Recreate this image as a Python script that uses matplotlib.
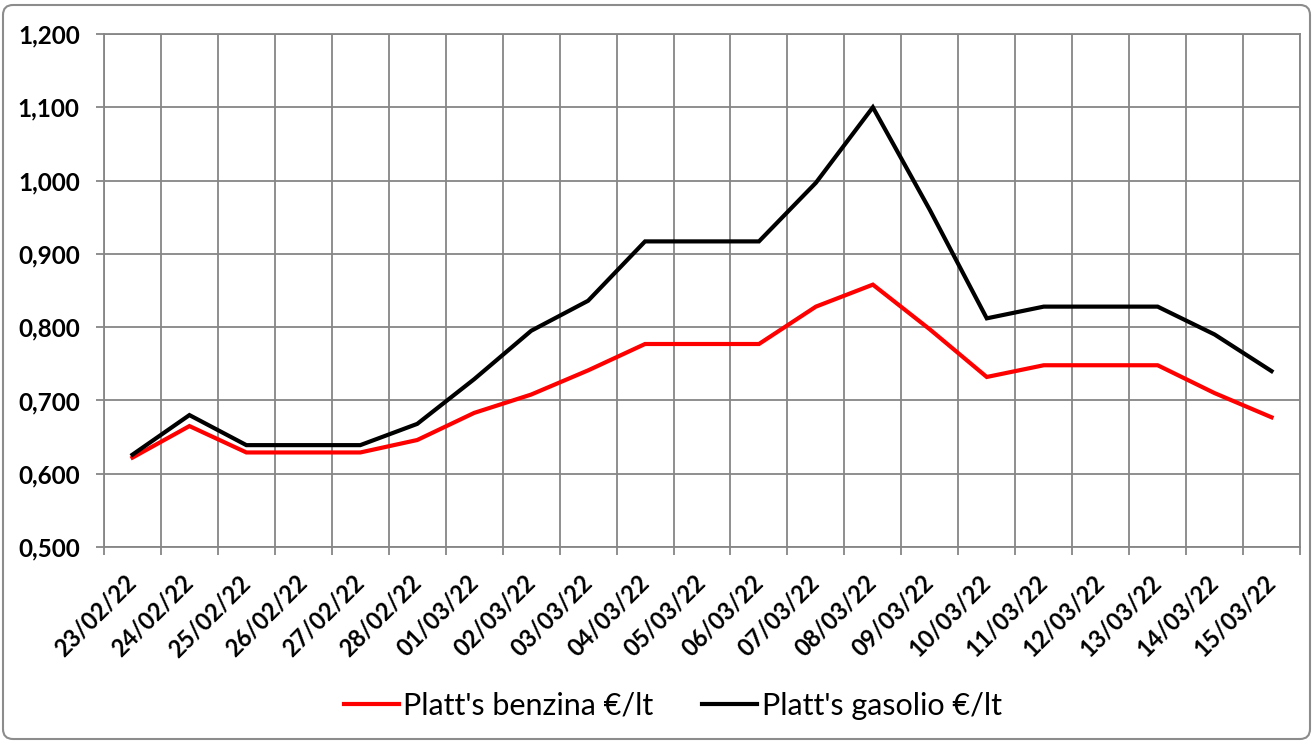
#!/usr/bin/env python3
"""
Platt's benzina / gasolio daily quotes (23/02/22 - 15/03/22), Excel-style line chart.
"""
import matplotlib
matplotlib.use('Agg')
import matplotlib.pyplot as plt
from matplotlib.patches import FancyBboxPatch
from matplotlib.transforms import IdentityTransform, ScaledTranslation
from matplotlib.ticker import FixedLocator, FuncFormatter

# ---------- Data ----------
DATES = ['23/02/22', '24/02/22', '25/02/22', '26/02/22', '27/02/22', '28/02/22',
         '01/03/22', '02/03/22', '03/03/22', '04/03/22', '05/03/22', '06/03/22',
         '07/03/22', '08/03/22', '09/03/22', '10/03/22', '11/03/22', '12/03/22',
         '13/03/22', '14/03/22', '15/03/22']
BENZINA = [0.622, 0.665, 0.629, 0.629, 0.629, 0.646, 0.683, 0.708, 0.741, 0.777,
           0.777, 0.777, 0.828, 0.858, 0.797, 0.732, 0.748, 0.748, 0.748, 0.710,
           0.677]
GASOLIO = [0.626, 0.680, 0.639, 0.639, 0.639, 0.668, 0.729, 0.795, 0.836, 0.917,
           0.917, 0.917, 0.997, 1.100, 0.960, 0.812, 0.828, 0.828, 0.828, 0.790,
           0.740]
SERIES_LABELS = ["Platt's benzina €/lt", "Platt's gasolio €/lt"]
Y_TICKS = [0.5, 0.6, 0.7, 0.8, 0.9, 1.0, 1.1, 1.2]

GRID = '#868686'
FONT = ['Lato', 'DejaVu Sans']


def main():
    plt.rcParams['font.family'] = FONT
    fig = plt.figure(figsize=(13.14, 7.43), dpi=100)
    ax = fig.add_axes([104 / 1314, 1 - 547 / 743, 1196 / 1314, 513 / 743])

    x = list(range(len(DATES)))
    ax.plot(x, BENZINA, color='#FF0000', lw=3.0, label=SERIES_LABELS[0],
            solid_joinstyle='miter', zorder=3)
    ax.plot(x, GASOLIO, color='#000000', lw=3.0, label=SERIES_LABELS[1],
            solid_joinstyle='miter', zorder=4)

    ax.set_xlim(-0.5, len(DATES) - 0.5)
    ax.set_ylim(0.5, 1.2)

    # gridlines + tick marks on category boundaries, labels on category centres
    ax.xaxis.set_major_locator(FixedLocator([i - 0.5 for i in range(len(DATES) + 1)]))
    ax.xaxis.set_major_formatter(FuncFormatter(lambda v, _: ''))
    ax.set_xticks(x, minor=True)
    ax.set_xticklabels(DATES, minor=True, rotation=45, ha='right', va='center',
                       rotation_mode='anchor', fontsize=17, fontweight='bold')
    shift = ScaledTranslation(12 / 100, 0, fig.dpi_scale_trans)
    for lab in ax.get_xticklabels(minor=True):
        lab.set_transform(lab.get_transform() + shift)

    ax.set_yticks(Y_TICKS)
    ax.yaxis.set_major_formatter(FuncFormatter(lambda v, _: f'{v:.3f}'.replace('.', ',')))
    for lab in ax.get_yticklabels():
        lab.set_fontweight('bold')

    ax.tick_params(axis='both', which='major', direction='out', length=5.5,
                   width=1.3, color=GRID)
    ax.tick_params(axis='x', which='minor', length=0, pad=23)
    ax.tick_params(axis='y', labelsize=17.5, pad=12)
    ax.grid(True, which='major', color=GRID, linewidth=1.3)
    ax.set_axisbelow(True)
    for spine in ax.spines.values():
        spine.set_edgecolor(GRID)
        spine.set_linewidth(1.3)

    fig.legend(loc='center', bbox_to_anchor=(0.512, 1 - 706 / 743), ncol=2,
               frameon=False, fontsize=22, handlelength=1.8, handletextpad=0.15,
               columnspacing=1.6)

    # rounded chart-area border
    border = FancyBboxPatch((3, 4), 1307, 734, boxstyle='round,pad=0,rounding_size=10',
                            transform=IdentityTransform(), facecolor='none',
                            edgecolor='#8c8c8c', linewidth=1.5)
    fig.patches.append(border)

    fig.savefig('out.png', dpi=100)
    plt.close(fig)


if __name__ == '__main__':
    main()
